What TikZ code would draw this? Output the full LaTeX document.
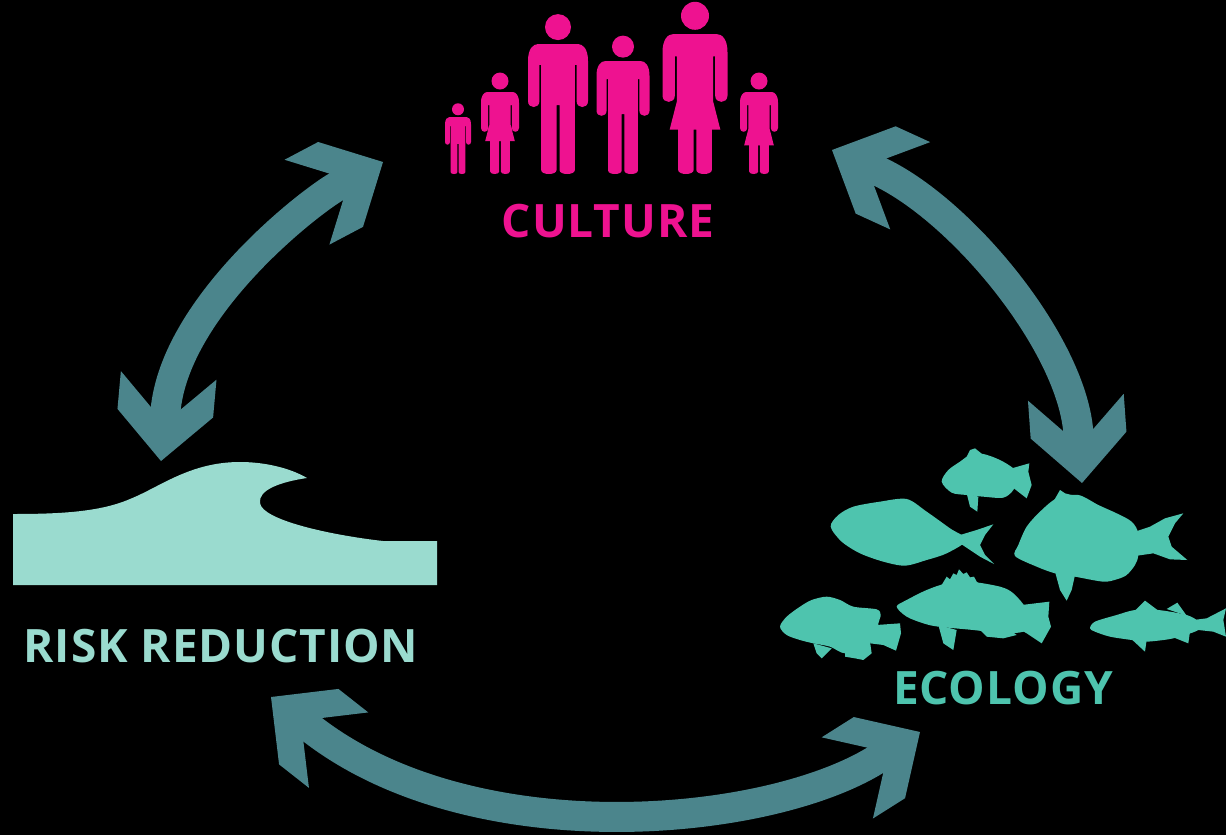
\documentclass[tikz,border=0pt]{standalone}
\usepackage{fontspec}
\setmainfont{Open Sans}[LetterSpace=2]
\usetikzlibrary{arrows.meta}
\definecolor{flowcol}{HTML}{4B858C}
\definecolor{pinkcol}{HTML}{EE1290}
\definecolor{wavecol}{HTML}{9ADBCF}
\definecolor{fishcol}{HTML}{4EC4AE}
\pgfdeclarearrow{
  name=Chev,
  setup code={%
    \pgfarrowssettipend{0pt}%
    \pgfarrowssetlineend{-50pt}%
    \pgfarrowssetvisualbackend{-53pt}%
    \pgfarrowssetbackend{-86pt}%
    \pgfarrowshullpoint{0pt}{0pt}%
    \pgfarrowshullpoint{-86pt}{48pt}%
    \pgfarrowshullpoint{-86pt}{-48pt}%
  },
  drawing code={%
    \pgfpathmoveto{\pgfqpoint{0pt}{0pt}}%
    \pgfpathlineto{\pgfqpoint{-48pt}{48pt}}%
    \pgfpathlineto{\pgfqpoint{-86pt}{48pt}}%
    \pgfpathlineto{\pgfqpoint{-53pt}{15pt}}%
    \pgfpathlineto{\pgfqpoint{-53pt}{-15pt}}%
    \pgfpathlineto{\pgfqpoint{-86pt}{-48pt}}%
    \pgfpathlineto{\pgfqpoint{-48pt}{-48pt}}%
    \pgfpathclose
    \pgfsetfillcolor{flowcol}%
    \pgfusepathqfill
  },
  defaults={}
}
\tikzset{
  flow/.style={draw=flowcol,line width=30pt,line cap=butt,{Chev}-{Chev}},
  labeltext/.style={font=\fontsize{46}{46}\bfseries\selectfont,inner sep=0pt,anchor=center},
  fishshape/.style={fill=fishcol},
}
\newcommand{\fishbody}[1]{\path[fishshape] plot[smooth cycle,tension=.5] coordinates {#1};}
\newcommand{\manfig}[5]{% cx, top, w, h, head r
  \fill[pinkcol] (#1,#2-#5-0.03*#4) circle[radius=#5];
  \begin{scope}[shift={(#1,#2)},x=#3pt,y=-#4pt]
  \fill[pinkcol] (-.5,.13) .. controls (-.5,.04) and (-.42,0) .. (-.33,0) -- (.33,0)
    .. controls (.42,0) and (.5,.04) .. (.5,.13) -- (.5,.44)
    .. controls (.5,.5) and (.31,.5) .. (.31,.44) -- (.31,.16) -- (.28,.16) -- (.28,.97)
    .. controls (.28,1.01) and (.025,1.01) .. (.025,.97) -- (.025,.47) -- (-.025,.47) -- (-.025,.97)
    .. controls (-.025,1.01) and (-.28,1.01) .. (-.28,.97) -- (-.28,.16) -- (-.31,.16) -- (-.31,.44)
    .. controls (-.31,.5) and (-.5,.5) .. (-.5,.44) -- cycle;
  \end{scope}
}
\newcommand{\womanfig}[6]{% cx, top, w, h, head r, hem
  \fill[pinkcol] (#1,#2-#5-0.03*#4) circle[radius=#5];
  \begin{scope}[shift={(#1,#2)},x=#3pt,y=-#4pt]
  \fill[pinkcol] (-.5,.13) .. controls (-.5,.04) and (-.42,0) .. (-.33,0) -- (.33,0)
    .. controls (.42,0) and (.5,.04) .. (.5,.13) -- (.5,.44)
    .. controls (.5,.5) and (.31,.5) .. (.31,.44) -- (.31,.16) -- (.28,.16) -- (.28,#6-.2) -- (.39,#6) -- (.26,#6) -- (.26,.97)
    .. controls (.26,1.01) and (.02,1.01) .. (.02,.97) -- (.02,#6) -- (-.02,#6) -- (-.02,.97)
    .. controls (-.02,1.01) and (-.26,1.01) .. (-.26,.97) -- (-.26,#6) -- (-.39,#6) -- (-.28,#6-.2) -- (-.28,.16) -- (-.31,.16) -- (-.31,.44)
    .. controls (-.31,.5) and (-.5,.5) .. (-.5,.44) -- cycle;
  \end{scope}
}
\begin{document}
\begin{tikzpicture}[x=1pt,y=-1pt]
\useasboundingbox (0,0) rectangle (1226,835);
\fill[black] (0,0) rectangle (1226,835);

% people
\manfig{458}{117}{26}{57}{6}
\womanfig{500}{92}{38}{82}{8.5}{.6}
\manfig{558}{44}{60}{130}{13}
\manfig{623}{61}{53}{113}{11}
\womanfig{695}{34}{65}{140}{14}{.683}
\womanfig{759}{92}{38}{82}{8.5}{.65}

% wave
\fill[wavecol] (13,585) -- (13,514) .. controls (60,514) and (100,512) .. (130,499)
  .. controls (160,487) and (190,462) .. (240,462)
  .. controls (265,462) and (290,468) .. (307,478)
  .. controls (280,482) and (258,490) .. (260,503)
  .. controls (262,520) and (330,535) .. (383,541)
  -- (437,541) -- (437,585) -- cycle;

% fish
\begin{scope}[shift={(770,430)},x=.33333pt,y=-.33333pt]
% A
\fishbody{(515,155)(535,120)(570,95)(600,75)(640,72)(690,90)(730,115)(745,140)(730,180)(700,203)(640,200)(590,195)(545,188)}
\path[fishshape] (585,90)--(600,60)--(615,55)--(640,75)--cycle;
\path[fishshape] (725,115)--(778,100)--(775,125)--(785,165)--(770,205)--(725,170)--cycle;
\path[fishshape] (590,190)--(600,230)--(622,245)--(625,200)--cycle;
% B
\fishbody{(182,290)(205,255)(250,230)(330,215)(410,207)(470,245)(540,295)(590,330)(530,370)(470,390)(405,407)(340,395)(270,370)(215,335)}
\path[fishshape] (570,315)--(620,300)--(670,283)--(645,315)--(630,345)--(645,375)--(672,402)--(630,380)--(570,340)--cycle;
% C
\fishbody{(735,378)(745,345)(770,290)(810,245)(860,205)(925,195)(985,225)(1040,250)(1085,275)(1105,310)(1105,375)(1095,405)(1070,435)(1040,448)(1000,455)(915,440)(855,430)(800,410)}
\path[fishshape] (850,215)--(870,180)--(885,190)--(925,200)--cycle;
\path[fishshape] (1095,305)--(1140,290)--(1185,265)--(1240,250)--(1215,280)--(1195,320)--(1205,350)--(1252,390)--(1200,388)--(1150,370)--(1095,378)--cycle;
\path[fishshape] (855,425)--(870,480)--(890,512)--(905,480)--(915,435)--cycle;
% D
\fishbody{(380,530)(410,510)(470,480)(530,460)(600,455)(690,470)(730,490)(770,540)(770,600)(700,610)(610,600)(505,590)(460,580)(410,560)}
\path[fishshape] (515,465)--(530,440)--(540,448)--(550,430)--(560,435)--(567,418)--(580,432)--(590,427)--(600,442)--(612,440)--(620,455)--(635,467)--cycle;
\path[fishshape] (755,525)--(838,515)--(835,560)--(843,590)--(815,640)--(770,610)--(735,590)--cycle;
\path[fishshape] (620,590)--(700,585)--(740,615)--(700,625)--(650,620)--cycle;
\path[fishshape] (505,585)--(520,640)--(550,660)--(560,600)--cycle;
% E
\fishbody{(30,590)(50,560)(90,530)(125,510)(170,500)(210,510)(250,530)(320,538)(332,555)(325,580)(320,620)(280,650)(225,670)(180,650)(130,640)(90,630)(50,615)}
\path[fishshape] (320,585)--(390,580)--(393,610)--(378,662)--(340,645)--(300,640)--cycle;
\path[fishshape] (130,640)--(140,670)--(155,685)--(185,655)--cycle;
\path[fishshape] (225,650)--(225,680)--(255,685)--(280,690)--(305,670)--(300,635)--cycle;
% F
\fishbody{(960,595)(975,575)(1040,555)(1095,540)(1165,540)(1250,555)(1285,575)(1285,600)(1210,625)(1130,635)(1085,630)(1020,620)(975,605)}
\path[fishshape] (1095,542)--(1125,512)--(1165,542)--cycle;
\path[fishshape] (1190,537)--(1222,518)--(1250,557)--cycle;
\path[fishshape] (1270,570)--(1310,565)--(1368,535)--(1360,570)--(1368,620)--(1330,605)--(1285,600)--cycle;
\path[fishshape] (1210,622)--(1255,640)--(1260,605)--cycle;
\path[fishshape] (1085,628)--(1125,665)--(1130,630)--cycle;
\end{scope}

% labels
\node[labeltext,text=pinkcol] (culture) at (608,221) {CULTURE};
\node[labeltext,text=wavecol] (risk) at (221,646) {RISK REDUCTION};
\node[labeltext,text=fishcol] (ecology) at (1003,688) {ECOLOGY};

% connector ends
\coordinate (cultureL) at (383,162);
\coordinate (cultureR) at (832,150);
\coordinate (riskT) at (161,461);
\coordinate (riskB) at (271,697);
\coordinate (ecoT) at (1082,483);
\coordinate (ecoB) at (920,732);

\draw[flow] (riskT) .. controls (175,305) and (313,199) .. (cultureL);
\draw[flow] (cultureR) .. controls (961,209) and (1072,344) .. (ecoT);
\draw[flow] (riskB) .. controls (472,855) and (768,828) .. (ecoB);
\end{tikzpicture}
\end{document}
